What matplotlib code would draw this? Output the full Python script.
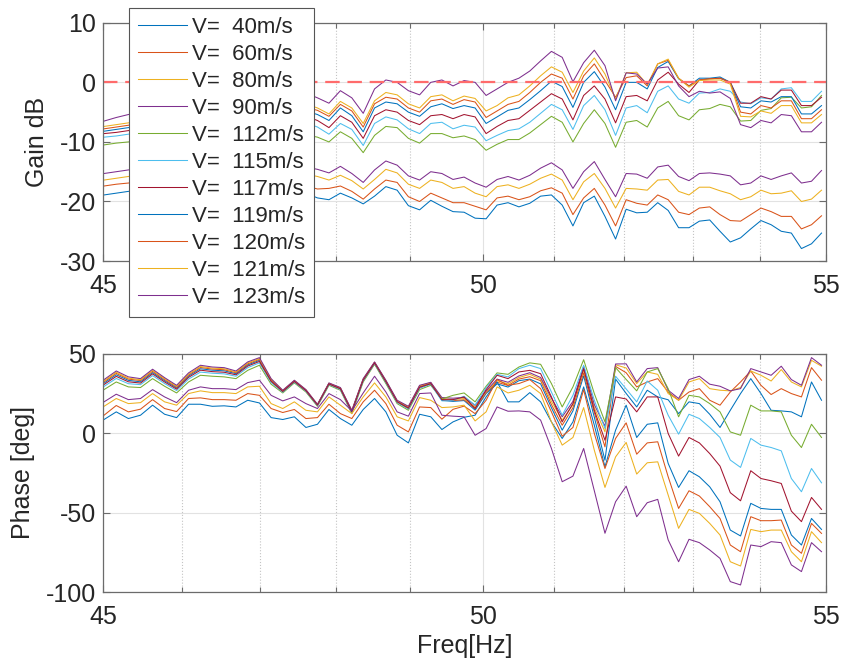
import numpy as np
import matplotlib
matplotlib.use('Agg')
import matplotlib.pyplot as plt
from matplotlib.ticker import FixedLocator, FixedFormatter, NullFormatter

# %% Data

speeds = [40, 60, 80, 90, 112, 115, 117, 119, 120, 121, 123]

# FFT bins (fs = 10 kHz, N = 65536) lying between 45 and 55 Hz
fs = 10000
nfft = 65536
bins = np.arange(295, 361)
freq = bins * fs / nfft

# Gain in dB
gain_40 = [-18.9, -18.6, -18.3,
           -18.1, -17.7, -18.2, -17.9, -17.6, -18.2, -17.9, -17.6, -18.1, -17.9, -17.7, -17.6, -18.3, -18.4, -18.6,
           -19.4, -19.7, -18.6, -19.4, -20.4, -19.1, -17.5, -18.1, -20.7, -21.4, -19.8, -20.8, -21.7, -21.8, -22.8,
           -22.9, -20.6, -20.2, -20.9, -20.3, -19.1, -18.9, -20.6, -24.1, -20.2, -19.1, -22.5, -26.3, -21.3, -21.9, -21.8,
           -20.2, -21.5, -24.4, -24.4, -23.3, -23.1, -25.0, -26.8, -26.1, -24.6, -23.2, -23.9, -25.0, -25.3, -27.9, -27.1, -25.3]
gain_60 = [-17.4, -17.1, -16.9,
           -16.7, -16.3, -16.8, -16.5, -16.2, -16.8, -16.4, -16.1, -16.6, -16.4, -16.2, -16.0, -16.7, -16.9, -17.4,
           -17.9, -17.8, -17.4, -18.3, -19.6, -17.9, -16.4, -16.8, -19.2, -20.0, -18.6, -19.4, -20.2, -20.2, -20.8,
           -21.4, -19.4, -19.1, -19.7, -19.2, -18.2, -17.7, -18.6, -22.2, -19.4, -17.8, -20.6, -24.1, -19.7, -20.3, -20.6,
           -18.9, -19.7, -21.8, -22.2, -21.1, -20.9, -22.2, -23.2, -23.3, -22.2, -21.1, -21.7, -22.5, -22.5, -24.6, -23.9, -22.4]
gain_80 = [-16.4, -16.1, -15.8,
           -15.5, -15.1, -15.6, -15.3, -15.0, -15.5, -15.1, -14.8, -15.2, -14.9, -14.7, -14.5, -15.1, -15.2, -15.4,
           -15.8, -16.4, -15.6, -16.5, -17.9, -16.3, -14.6, -15.2, -17.1, -17.8, -16.4, -16.8, -17.8, -17.5, -18.6,
           -19.2, -17.5, -17.2, -17.8, -17.1, -16.1, -15.4, -16.4, -19.7, -16.7, -15.3, -17.8, -21.1, -17.8, -17.9, -18.1,
           -16.4, -16.3, -18.3, -18.9, -17.6, -17.6, -18.2, -18.7, -19.7, -19.2, -18.1, -18.7, -18.6, -18.2, -20.0, -19.6, -18.1]
gain_90 = [-15.3, -15.0, -14.7,
           -14.4, -14.0, -14.5, -14.2, -13.8, -14.3, -13.9, -13.6, -14.0, -13.7, -13.4, -13.2, -13.8, -13.9, -14.2,
           -14.6, -15.2, -14.1, -15.3, -16.8, -14.7, -13.2, -13.9, -15.7, -16.4, -15.0, -15.3, -16.3, -15.9, -16.9,
           -17.6, -16.3, -15.8, -16.4, -15.6, -14.4, -13.5, -14.7, -17.8, -15.0, -13.3, -16.3, -19.2, -15.3, -15.4, -16.1,
           -14.2, -13.9, -15.8, -16.5, -15.3, -15.2, -15.4, -15.7, -17.2, -16.9, -15.7, -16.3, -15.7, -15.2, -16.9, -16.6, -14.8]
gain_112 = [-10.5, -10.2, -10.0,
            -9.8, -9.4, -9.7, -9.3, -9.0, -9.3, -8.8, -8.5, -8.8, -8.4, -8.2, -7.9, -8.4, -8.1, -8.8,
            -9.2, -10.0, -8.3, -9.4, -11.8, -8.9, -7.4, -7.6, -9.4, -10.2, -8.6, -8.6, -9.3, -9.0, -9.6,
            -11.4, -10.4, -9.6, -9.6, -8.5, -7.1, -5.7, -6.7, -10.0, -6.9, -4.6, -6.9, -10.9, -6.7, -6.4, -7.5,
            -4.3, -3.2, -5.6, -6.3, -4.6, -4.4, -3.7, -4.1, -6.5, -6.4, -4.7, -4.4, -2.6, -2.5, -4.3, -4.1, -2.2]
gain_115 = [-9.2, -9.0, -8.7,
            -8.4, -8.0, -8.3, -7.9, -7.6, -7.9, -7.4, -7.1, -7.4, -7.0, -6.8, -6.5, -7.0, -6.7, -6.8,
            -7.5, -8.7, -6.9, -7.9, -10.6, -6.9, -5.8, -6.3, -7.8, -8.6, -6.9, -6.7, -7.8, -7.2, -7.5,
            -9.8, -8.9, -8.1, -7.8, -6.7, -5.2, -3.7, -4.6, -7.9, -3.9, -2.2, -4.6, -8.9, -4.3, -3.9, -5.1,
            -1.5, -0.6, -2.8, -3.5, -1.8, -1.7, -1.1, -1.5, -3.3, -3.6, -2.6, -2.8, -1.1, -0.9, -3.2, -3.2, -1.5]
gain_117 = [-8.6, -8.4, -8.1,
            -7.8, -7.4, -7.7, -7.3, -6.9, -7.2, -6.7, -6.4, -6.7, -6.2, -6.0, -5.7, -6.2, -5.9, -5.7,
            -6.4, -7.6, -5.6, -6.7, -9.4, -5.6, -4.6, -5.0, -6.4, -7.1, -5.6, -5.4, -6.1, -5.4, -5.8,
            -8.6, -7.4, -6.4, -6.1, -4.7, -3.3, -1.9, -2.8, -6.3, -2.2, -0.6, -2.8, -6.8, -2.4, -2.2, -3.1,
            0.4, 1.7, -0.3, -1.7, 0.4, 0.6, 0.7, 0.0, -3.5, -3.5, -2.4, -2.8, -1.3, -1.3, -3.9, -3.9, -2.5]
gain_119 = [-8.2, -7.9, -7.6,
            -7.2, -6.8, -7.1, -6.6, -6.2, -6.5, -6.0, -5.7, -6.0, -5.5, -5.2, -4.9, -5.4, -5.1, -4.8,
            -5.4, -6.4, -4.3, -5.6, -8.3, -4.3, -3.3, -3.6, -5.0, -5.7, -4.1, -3.6, -4.4, -3.9, -4.3,
            -6.9, -5.8, -4.7, -4.3, -2.9, -1.4, 0.2, -0.7, -4.2, 0.0, 1.8, -0.8, -4.6, 0.0, 0.0, -1.1,
            2.5, 3.5, 0.6, -0.6, 0.7, 0.7, 0.9, 0.0, -4.1, -4.3, -3.1, -3.3, -2.4, -2.4, -5.3, -5.3, -3.9]
gain_120 = [-7.8, -7.5, -7.2,
            -6.8, -6.4, -6.7, -6.2, -5.8, -6.1, -5.5, -5.2, -5.5, -5.0, -4.7, -4.4, -4.9, -4.5, -4.2,
            -4.7, -5.7, -3.7, -4.8, -7.5, -3.6, -2.5, -2.8, -4.3, -5.0, -3.1, -2.8, -3.7, -2.9, -3.3,
            -5.9, -4.8, -3.7, -3.2, -1.7, 0.0, 1.4, 0.7, -2.8, 1.1, 3.1, 0.3, -2.5, 0.8, 1.1, -0.6,
            3.1, 3.7, 0.7, -0.6, 0.4, 0.6, 0.7, 0.0, -5.0, -5.3, -3.9, -4.3, -3.1, -3.1, -6.1, -6.1, -4.6]
gain_121 = [-7.4, -7.1, -6.8,
            -6.4, -6.0, -6.3, -5.8, -5.4, -5.7, -5.1, -4.8, -5.1, -4.6, -4.3, -4.0, -4.5, -4.1, -3.6,
            -4.3, -5.3, -3.2, -4.3, -6.9, -3.1, -1.7, -2.1, -3.6, -4.3, -2.4, -2.1, -3.1, -2.3, -2.7,
            -4.8, -3.9, -2.6, -2.1, -0.6, 1.1, 2.6, 1.7, -1.7, 1.9, 4.1, 1.4, -2.8, 1.6, 1.7, -0.4,
            3.1, 3.9, 0.7, -0.8, 0.3, 0.4, 0.4, -0.3, -5.7, -5.8, -4.8, -5.2, -3.9, -3.9, -6.8, -6.8, -5.4]
gain_123 = [-6.5, -5.9, -5.4,
            -5.0, -4.6, -4.9, -4.3, -3.9, -4.2, -3.6, -3.3, -3.6, -3.0, -2.7, -2.4, -2.9, -2.4, -1.8,
            -2.6, -3.5, -1.4, -2.6, -5.2, -1.1, 0.4, 0.0, -1.4, -2.1, 0.0, 0.4, -0.6, 0.3, 0.0,
            -2.2, -1.1, 0.0, 0.7, 1.9, 3.6, 5.2, 4.2, 0.1, 3.3, 5.4, 2.8, -3.1, 1.6, 1.4, -0.3,
            2.4, 2.6, -0.6, -2.4, -1.5, -1.8, -1.6, -2.7, -7.1, -7.6, -6.4, -6.8, -5.4, -5.6, -8.3, -8.3, -6.7]

# Phase in deg
phase_40 = [31.5, 36.7, 33.2, 32.3, 38.1, 33.0, 28.4, 35.9, 40.5, 39.6, 39.2, 37.4, 42.9, 45.8, 33.1,
            26.4, 32.7, 26.9, 17.7, 31.1, 28.1, 13.7, 33.6, 44.3, 32.6, 20.0, 16.0, 29.2, 31.3,
            20.6, 20.0, 20.5, 14.5, 25.0, 31.0, 29.0, 33.0, 34.0, 31.0, 16.0, 1.9, 14.0, 36.0, 10.0, -17.0, 34.0, 25.0,
            16.5, 27.0, 22.8, 21.0, 12.3, 19.7, 18.6, 11.9, 3.6, 14.4, 24.9, 34.3, 24.9, 14.4, 14.0, 13.4, 10.3, 32.2, 20.7]
phase_60 = [32.3, 37.6, 34.0, 33.1, 38.9, 33.7, 29.0, 36.6, 41.3, 40.3, 39.9, 38.0, 43.6, 46.4, 33.5,
            26.6, 32.9, 27.1, 17.9, 31.3, 28.3, 13.9, 33.8, 44.5, 32.8, 20.2, 16.3, 29.5, 31.6,
            21.2, 20.5, 21.0, 15.5, 25.5, 32.0, 30.0, 34.0, 35.5, 33.0, 18.0, 5.0, 16.0, 38.0, 13.0, -8.6, 42.0, 38.0,
            29.1, 32.2, 34.3, 25.9, 20.7, 25.9, 28.0, 20.7, 17.6, 25.9, 32.2, 39.1, 30.1, 24.3, 28.0, 24.9, 22.8, 41.2, 33.3]
phase_80 = [32.9, 38.3, 34.6, 33.6, 39.5, 34.3, 29.5, 37.2, 41.9, 40.9, 40.5, 38.5, 44.2, 46.9, 33.9,
            26.8, 33.1, 27.2, 18.0, 31.4, 28.5, 14.1, 34.0, 44.6, 33.0, 20.4, 16.6, 29.8, 31.8,
            21.8, 21.2, 21.8, 16.5, 26.0, 33.0, 31.0, 35.0, 37.0, 34.0, 20.0, 8.2, 18.0, 40.0, 16.0, 0.8, 43.0, 41.0,
            31.2, 38.5, 37.0, 24.9, 20.7, 32.2, 34.3, 28.0, 27.0, 26.6, 28.7, 39.1, 36.4, 32.8, 40.0, 32.2, 29.1, 45.8, 42.1]
phase_90 = [33.7, 39.1, 35.4, 34.3, 40.2, 34.9, 30.1, 37.9, 42.7, 41.6, 41.2, 39.1, 44.8, 47.5, 34.3,
            27.0, 33.3, 27.4, 18.2, 31.6, 28.7, 14.4, 34.3, 44.8, 33.3, 20.7, 16.9, 30.1, 32.0,
            22.4, 22.0, 22.5, 17.5, 26.5, 34.0, 32.0, 36.0, 38.0, 35.0, 22.0, 10.3, 20.0, 42.0, 18.0, 4.4, 43.5, 43.6,
            32.2, 40.6, 41.2, 27.0, 21.8, 33.7, 35.8, 30.8, 29.5, 26.6, 28.0, 40.6, 38.5, 36.4, 42.1, 33.7, 30.1, 47.5, 42.7]
phase_112 = [27.4, 32.2, 29.1, 28.7, 34.3, 29.5, 25.3, 32.2, 36.4, 35.8, 35.4, 34.3, 39.5, 42.7, 30.8,
             25.3, 31.6, 25.9, 16.9, 30.1, 27.0, 12.3, 32.2, 43.3, 31.2, 18.6, 14.4, 27.4, 30.1,
             21.5, 23.8, 25.3, 19.7, 29.5, 37.9, 37.0, 41.6, 44.2, 43.3, 31.2, 16.5, 29.1, 46.2, 24.9, 7.1, 41.2, 33.8,
             26.6, 38.5, 40.6, 28.0, 10.3, 23.8, 22.8, 18.6, 13.4, 0.8, -1.3, 17.6, 14.0, 14.0, 13.4, -1.3, -9.0, 5.6, -2.7]
phase_115 = [29.4, 34.4, 31.1, 30.5, 36.2, 31.2, 26.8, 34.0, 38.4, 37.7, 37.3, 35.8, 41.2, 44.2, 31.9,
             25.8, 32.1, 26.4, 17.3, 30.6, 27.5, 13.0, 32.9, 43.8, 31.9, 19.3, 15.2, 28.3, 30.7,
             20.3, 20.7, 23.2, 17.6, 28.7, 37.0, 35.4, 40.6, 42.7, 40.6, 25.9, 11.3, 23.8, 42.7, 20.7, 2.9, 35.8, 27.8,
             19.7, 32.8, 27.0, 11.3, -0.6, 11.9, 9.2, 3.6, -2.7, -16.9, -21.5, -3.3, -7.5, -9.0, -11.1, -28.5, -36.8, -22.2, -31.2]
phase_117 = [30.6, 35.7, 32.3, 31.5, 37.3, 32.2, 27.7, 35.1, 39.6, 38.7, 38.3, 36.7, 42.2, 45.1, 32.6,
             26.2, 32.5, 26.7, 17.6, 30.9, 27.9, 13.4, 33.3, 44.1, 32.3, 19.7, 15.7, 28.8, 31.1,
             21.0, 21.1, 22.8, 15.5, 27.4, 36.4, 34.3, 38.5, 39.5, 37.4, 22.8, 7.1, 18.6, 40.6, 14.4, -4.4, 22.8, 21.5,
             13.4, 22.8, 22.8, -0.2, -14.4, -2.7, -6.1, -12.8, -20.7, -37.4, -42.5, -23.6, -28.5, -29.9, -31.6, -49.0, -55.6, -40.4, -47.9]
phase_119 = [8.6, 13.4, 9.2, 11.3, 17.6, 11.9, 9.8, 18.2, 18.2, 16.9, 17.2, 16.5, 20.7, 19.0, 9.8, 8.6,
             10.3, 3.6, 5.6, 14.9, 9.2, 5.0, 14.9, 21.8, 13.4, -1.3, -6.1, 11.9, 10.3, 2.3, 7.1,
             10.0, 11.3, 22.8, 32.2, 19.7, 19.7, 25.5, 19.7, 7.1, -3.3, 7.1, 29.1, 5.0, -21.1, 1.9, 17.6,
             -2.7, 5.6, 6.5, -19.0, -34.1, -23.6, -27.4, -33.7, -43.1, -60.9, -64.6, -44.1, -47.3, -47.9, -47.9, -64.0, -70.3, -53.6, -60.5]
phase_120 = [11.3, 17.4, 13.4, 15.1, 21.1, 15.5, 13.6, 21.8, 22.2, 21.1, 21.1, 20.7, 24.9, 23.8, 15.5, 13.0,
             14.9, 9.2, 9.8, 18.2, 12.3, 9.2, 19.7, 27.0, 18.6, 5.0, 0.8, 16.5, 16.1, 8.8, 15.0,
             17.0, 12.3, 20.7, 33.7, 30.1, 31.2, 33.7, 28.0, 13.4, -1.9, 3.6, 27.4, -0.2, -22.2, -3.3, 6.5,
             -13.2, -6.1, -5.4, -27.4, -47.3, -36.2, -39.5, -46.2, -53.6, -70.3, -74.5, -52.5, -55.0, -55.0, -54.6, -70.3, -75.5, -56.7, -63.0]
phase_121 = [16.9, 21.8, 18.6, 19.2, 24.9, 19.7, 17.6, 24.9, 26.6, 25.5, 25.5, 24.9, 29.1, 29.5, 18.6, 15.5,
             19.7, 14.4, 13.4, 22.8, 17.6, 12.3, 22.8, 31.6, 22.8, 10.3, 7.7, 22.4, 20.7, 16.1, 16.5,
             17.6, 7.7, 13.4, 29.1, 25.3, 27.0, 30.1, 24.9, 7.1, -7.5, -2.7, 16.1, -10.7, -34.1, -14.9, -5.8,
             -25.7, -18.6, -18.0, -38.9, -59.8, -47.9, -50.4, -56.7, -64.0, -80.8, -83.5, -60.5, -61.9, -60.9, -60.9, -74.5, -80.8, -61.9, -68.8]
phase_123 = [19.7, 24.5, 21.1, 21.8, 27.4, 22.8, 19.2, 27.0, 29.1, 28.0, 28.0, 27.4, 31.8, 33.3, 23.8, 20.3,
             22.8, 18.6, 15.5, 24.9, 21.1, 14.0, 25.3, 35.8, 25.9, 13.4, 10.7, 24.9, 25.3, 11.3, 10.7,
             10.3, -1.3, 2.9, 16.5, 13.8, 14.0, 13.4, 8.2, -9.6, -30.5, -27.0, -9.6, -36.2, -62.9, -43.1, -33.3,
             -52.5, -43.7, -41.6, -67.1, -80.8, -66.7, -68.8, -73.4, -78.7, -93.3, -95.4, -70.3, -71.3, -68.2, -68.8, -82.8, -87.0, -68.8, -74.5]

gains = [gain_40, gain_60, gain_80, gain_90, gain_112, gain_115, gain_117,
         gain_119, gain_120, gain_121, gain_123]
phases = [phase_40, phase_60, phase_80, phase_90, phase_112, phase_115, phase_117,
          phase_119, phase_120, phase_121, phase_123]

# MATLAB default colour order
colors = ['#0072BD', '#D95319', '#EDB120', '#7E2F8E', '#77AC30', '#4DBEEE', '#A2142F',
          '#0072BD', '#D95319', '#EDB120', '#7E2F8E']

# %% Plot

plt.rcParams['font.family'] = ['Liberation Sans', 'DejaVu Sans']
plt.rcParams['axes.unicode_minus'] = False

txtcol = '#262626'
axcol = '#6b6b6b'

fig = plt.figure(figsize=(8.42, 6.66), dpi=100)
ax1 = fig.add_axes([0.1223, 0.608, 0.8587, 0.3578])
ax2 = fig.add_axes([0.1223, 0.1107, 0.8587, 0.3583])

handles = []
for v, g, p, c in zip(speeds, gains, phases, colors):
    h, = ax1.plot(freq, g, color=c, lw=0.75, label='V=  %dm/s' % v)
    ax2.plot(freq, p, color=c, lw=0.75)
    handles.append(h)

ax1.axhline(0, color='#ff6b6b', lw=1.6, ls=(0, (6.5, 3.5)))


def style(ax):
    ax.set_xscale('log')
    ax.set_xlim(45, 55)
    ax.xaxis.set_major_locator(FixedLocator([45, 50, 55]))
    ax.xaxis.set_major_formatter(FixedFormatter(['45', '50', '55']))
    ax.xaxis.set_minor_locator(FixedLocator([46, 47, 48, 49, 51, 52, 53, 54]))
    ax.xaxis.set_minor_formatter(NullFormatter())
    ax.tick_params(which='both', direction='in', top=True, right=True,
                   color=axcol, labelcolor=txtcol, labelsize=18, width=0.8)
    ax.tick_params(which='major', length=5)
    ax.tick_params(which='minor', length=3.5)
    ax.tick_params(axis='x', which='major', pad=9)
    ax.tick_params(axis='y', which='major', pad=5)
    ax.grid(True, which='major', color='#e2e2e2', lw=0.8)
    ax.grid(True, which='minor', axis='x', color='#c4c4c4', ls=':', lw=0.8)
    ax.set_axisbelow(True)
    for s in ax.spines.values():
        s.set_color(axcol)
        s.set_linewidth(0.9)


style(ax1)
style(ax2)

ax1.set_ylim(-30, 10)
ax1.set_yticks([-30, -20, -10, 0, 10])
ax1.set_ylabel('Gain dB', fontsize=18, color=txtcol, labelpad=8)

ax2.set_ylim(-100, 50)
ax2.set_yticks([-100, -50, 0, 50])
ax2.set_ylabel('Phase [deg]', fontsize=18, color=txtcol, labelpad=8)
ax2.set_xlabel('Freq[Hz]', fontsize=18, color=txtcol, labelpad=4)

leg = fig.legend(handles, [h.get_label() for h in handles], loc='upper left',
                 bbox_to_anchor=(129 / 842, 1 - 8 / 666), bbox_transform=fig.transFigure,
                 borderaxespad=0, fontsize=16, frameon=True, fancybox=False,
                 framealpha=1, edgecolor='#555555', borderpad=0.4,
                 labelspacing=0.27, handlelength=2.2, handletextpad=0.25)
leg.get_frame().set_linewidth(0.8)
for t in leg.get_texts():
    t.set_color(txtcol)

fig.savefig('out.png', dpi=100)
